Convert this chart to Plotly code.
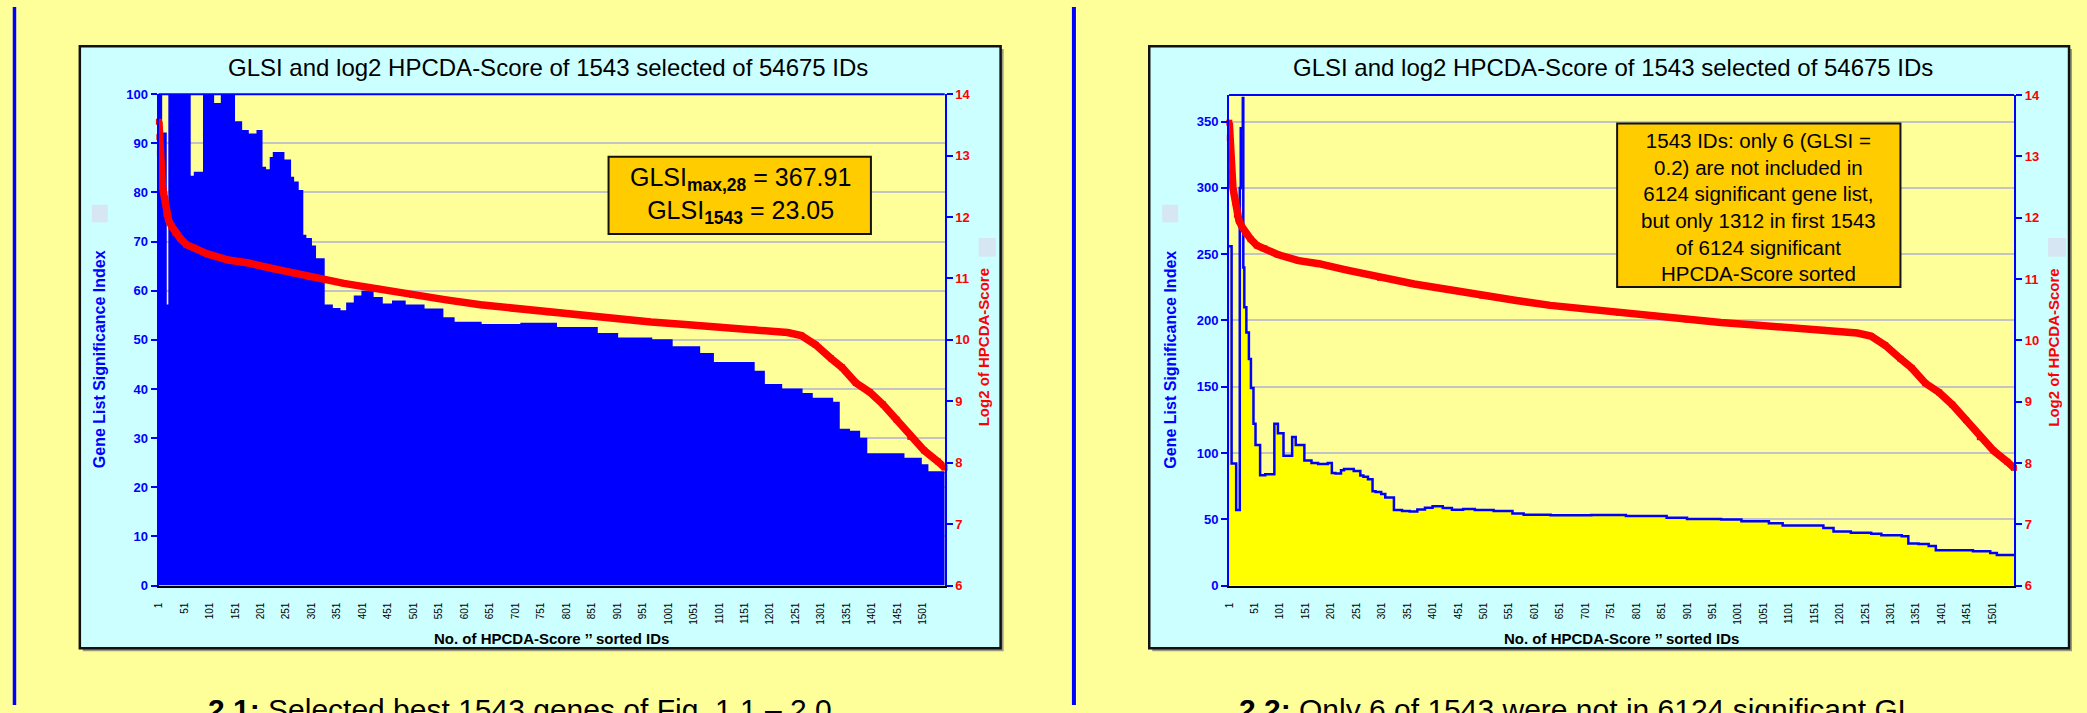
import plotly.graph_objects as go

W, H = 2087, 713
FONT = "Liberation Sans, Arial, sans-serif"

# GLSI per ID, stored as runs: first ID of each plateau and its GLSI value
run_first_id = [1, 6, 15, 22, 24, 28, 29, 31, 35, 40,
                44, 49, 53, 62, 72, 90, 97, 108, 125, 132,
                149, 163, 176, 195, 203, 210, 221, 227, 246, 259,
                265, 274, 283, 289, 300, 308, 325, 341, 356, 371,
                386, 401, 421, 439, 461, 484, 521, 558, 580, 633,
                713, 781, 861, 901, 968, 1008, 1062, 1089, 1169, 1189,
                1223, 1263, 1283, 1323, 1336, 1356, 1376, 1390, 1463, 1497,
                1510]
run_glsi = [256, 92, 57, 300, 345, 367.91, 240, 210, 191, 171,
            149, 122, 106, 83.2, 84, 122, 115, 98, 112, 106,
            94.3, 92.5, 91.8, 92.5, 85, 84.5, 87, 88, 86.5, 83,
            82, 80.3, 71.2, 70.5, 69, 66.4, 57, 56.3, 55.8, 57.4,
            58.8, 59.8, 58.5, 57.2, 57.8, 57, 56.2, 54.4, 53.5, 53,
            53.3, 52.4, 51.2, 50.3, 49.9, 48.5, 47.1, 45.3, 43.5, 40.8,
            39.9, 39, 38, 37.2, 31.7, 31.3, 29.9, 26.7, 25.8, 24.5,
            23.05]

# log2 HPCDA-Score along the sorted IDs
score_id = [1, 2, 3, 4, 5, 6, 8, 10, 13, 16, 20, 26, 33, 43, 55, 70, 96,
            137, 177, 230, 297, 364, 431, 498, 565, 632, 699, 766, 833, 900,
            967, 1034, 1101, 1168, 1235, 1262, 1290, 1320, 1342, 1369, 1396,
            1422, 1449, 1476, 1503, 1530, 1543]
log2_score = [13.55, 13.3, 13.05, 12.95, 12.75, 12.6, 12.5, 12.4, 12.25, 12.05,
              11.95, 11.85, 11.75, 11.65, 11.55, 11.5, 11.4, 11.3, 11.25, 11.15,
              11.02, 10.92, 10.83, 10.73, 10.65, 10.57, 10.51, 10.45, 10.4, 10.34,
              10.29, 10.25, 10.21, 10.17, 10.12, 10.07, 9.92, 9.7, 9.55, 9.3,
              9.15, 8.95, 8.7, 8.42, 8.2, 8.02, 7.92]

n_ids = 1543
tick_ids = list(range(1, n_ids + 1, 50))
tick_text = [str(i) for i in tick_ids]

chart_title = "GLSI and log2 HPCDA-Score of 1543 selected of 54675 IDs"
x_title = "No. of HPCDA-Score \u2019\u2019 sorted IDs"
y_title = "Gene List Significance Index"
y2_title = "Log2 of HPCDA-Score"
box_left = "GLSI<sub><b>max,28</b></sub> = 367.91<br>GLSI<sub><b>1543</b></sub> = 23.05"
box_right = ("1543 IDs: only 6 (GLSI =<br>0.2) are not included in<br>"
             "6124 significant gene list,<br>but only 1312 in first 1543<br>"
             "of 6124 significant<br>HPCDA-Score sorted")
caption_left = "<b>2.1:</b> Selected best 1543 genes of Fig. 1.1 \u2013 2.0"
caption_right = "<b>2.2:</b> Only 6 of 1543 were not in 6124 significant GL"

BLUE = "#0000FF"
RED = "#FF0000"
PAGE = "#FFFF99"
FRAME = "#CCFFFF"


def px(x):
    return x / W


def py(y):
    return 1 - y / H


# step outline of the GLSI runs
step_x = [i - 0.5 for i in run_first_id] + [n_ids + 0.5]
step_y = run_glsi + [run_glsi[-1]]

# pixel geometry of the two panels
panels = [
    dict(frame=(75, 40, 998, 655), plot=(154, 89, 942, 591), ymax=100, dtick=10,
         xa="x", ya="y", ya2="y2", fill=BLUE, title_x=544,
         ytitle_x=95, y2title_x=981, sq1=(87, 202, 103, 220), sq2=(976, 236, 993, 255)),
    dict(frame=(1147, 40, 2069, 655), plot=(1227, 90, 2014, 591), ymax=370, dtick=50,
         xa="x2", ya="y3", ya2="y4", fill="#FFFF00", title_x=1612,
         ytitle_x=1168, y2title_x=2054, sq1=(1160, 202, 1176, 220), sq2=(2048, 236, 2066, 255)),
]

fig = go.Figure()

for p in panels:
    fig.add_trace(go.Scatter(
        x=step_x, y=step_y, mode="lines",
        line=dict(color=BLUE, width=2 if p["fill"] == BLUE else 2.5, shape="hv"),
        fill="tozeroy", fillcolor=p["fill"],
        xaxis=p["xa"], yaxis=p["ya"], showlegend=False, hoverinfo="skip"))
    fig.add_trace(go.Scatter(
        x=score_id, y=log2_score, mode="lines+markers",
        line=dict(color=RED, width=7.5),
        marker=dict(symbol="square", size=6, color=RED),
        cliponaxis=False,
        xaxis=p["xa"], yaxis=p["ya2"], showlegend=False, hoverinfo="skip"))

shapes = []
annotations = []

for p in panels:
    fx0, fy0, fx1, fy1 = p["frame"]
    x0, y0, x1, y1 = p["plot"]
    # chart frame with shadow
    shapes.append(dict(type="rect", xref="paper", yref="paper", layer="below",
                       x0=px(fx0 + 3), x1=px(fx1 + 3), y0=py(fy0 + 3), y1=py(fy1 + 3),
                       fillcolor="#9a9a80", line=dict(width=0)))
    shapes.append(dict(type="rect", xref="paper", yref="paper", layer="below",
                       x0=px(fx0), x1=px(fx1), y0=py(fy0), y1=py(fy1),
                       fillcolor=FRAME, line=dict(color="#111111", width=2.5)))
    # plot area background
    shapes.append(dict(type="rect", xref="paper", yref="paper", layer="below",
                       x0=px(x0), x1=px(x1), y0=py(y0), y1=py(y1),
                       fillcolor=PAGE, line=dict(width=0)))
    for sq in (p["sq1"], p["sq2"]):
        shapes.append(dict(type="rect", xref="paper", yref="paper", layer="below",
                           x0=px(sq[0]), x1=px(sq[2]), y0=py(sq[1]), y1=py(sq[3]),
                           fillcolor="#D6E6F2", line=dict(width=0)))
    # blue top border of the plot area
    shapes.append(dict(type="line", xref="paper", yref="paper", layer="above",
                       x0=px(x0), x1=px(x1), y0=py(y0), y1=py(y0),
                       line=dict(color=BLUE, width=2)))

    annotations.append(dict(text=chart_title, xref="paper", yref="paper",
                            x=px(p["title_x"]), y=py(62), xanchor="center", yanchor="middle",
                            showarrow=False, font=dict(family=FONT, size=24, color="black")))
    annotations.append(dict(text=x_title, xref="paper", yref="paper",
                            x=px((x0 + x1) / 2), y=py(645), xanchor="center", yanchor="middle",
                            showarrow=False,
                            font=dict(family=FONT, size=15, color="black", weight="bold")))
    annotations.append(dict(text=y_title, xref="paper", yref="paper", textangle=-90,
                            x=px(p["ytitle_x"]), y=py(360), xanchor="center", yanchor="middle",
                            showarrow=False,
                            font=dict(family=FONT, size=16, color=BLUE, weight="bold")))
    annotations.append(dict(text=y2_title, xref="paper", yref="paper", textangle=-90,
                            x=px(p["y2title_x"]), y=py(348), xanchor="center", yanchor="middle",
                            showarrow=False,
                            font=dict(family=FONT, size=15, color=RED, weight="bold")))

# text boxes
shapes.append(dict(type="rect", xref="paper", yref="paper", layer="above",
                   x0=px(605), x1=px(868), y0=py(153), y1=py(232),
                   fillcolor="#FFCC00", line=dict(color="#111111", width=2)))
shapes.append(dict(type="rect", xref="paper", yref="paper", layer="above",
                   x0=px(1616), x1=px(1900), y0=py(119), y1=py(286),
                   fillcolor="#FFCC00", line=dict(color="#111111", width=2)))
annotations.append(dict(text=box_left, xref="paper", yref="paper",
                        x=px(737), y=py(193), xanchor="center", yanchor="middle",
                        showarrow=False, align="center",
                        font=dict(family=FONT, size=25, color="black")))
annotations.append(dict(text=box_right, xref="paper", yref="paper",
                        x=px(1758), y=py(204), xanchor="center", yanchor="middle",
                        showarrow=False, align="center",
                        font=dict(family=FONT, size=20.5, color="black")))

# page dividers
for xv, wv in ((9.5, 3.5), (1071.5, 4)):
    shapes.append(dict(type="line", xref="paper", yref="paper", layer="above",
                       x0=px(xv), x1=px(xv), y0=0, y1=1,
                       line=dict(color=BLUE, width=wv)))

# captions (partly below the visible page)
annotations.append(dict(text=caption_left, xref="paper", yref="paper",
                        x=px(201), y=py(699), xanchor="left", yanchor="top",
                        showarrow=False, font=dict(family=FONT, size=30, color="black")))
annotations.append(dict(text=caption_right, xref="paper", yref="paper",
                        x=px(1235), y=py(699), xanchor="left", yanchor="top",
                        showarrow=False, font=dict(family=FONT, size=30, color="black")))


def xaxis_cfg(p):
    x0, _, x1, _ = p["plot"]
    return dict(domain=[px(x0), px(x1)], anchor=p["ya"], range=[0.5, n_ids + 0.5],
                tickmode="array", tickvals=tick_ids, ticktext=tick_text, tickangle=-90,
                tickfont=dict(family=FONT, size=10, color="black"),
                ticks="outside", ticklen=11, tickcolor="rgba(0,0,0,0)",
                showline=True, linecolor="black", linewidth=2,
                showgrid=False, zeroline=False)


def yaxis_cfg(p):
    _, y0, _, y1 = p["plot"]
    return dict(domain=[py(y1), py(y0)], anchor=p["xa"], range=[0, p["ymax"]], dtick=p["dtick"],
                tickfont=dict(family=FONT, size=13, color=BLUE, weight="bold"),
                ticks="outside", ticklen=6, tickwidth=2, tickcolor=BLUE,
                showline=True, linecolor=BLUE, linewidth=2,
                showgrid=True, gridcolor="#C4C4C4", gridwidth=2, zeroline=False)


def yaxis2_cfg(p):
    return dict(overlaying=p["ya"], side="right", anchor=p["xa"], range=[6, 14], dtick=1,
                tickfont=dict(family=FONT, size=13, color=RED, weight="bold"),
                ticks="outside", ticklen=6, tickwidth=2, tickcolor=BLUE,
                showline=True, linecolor=BLUE, linewidth=2,
                showgrid=False, zeroline=False)


fig.update_layout(
    width=W, height=H, autosize=False,
    margin=dict(l=0, r=0, t=0, b=0),
    paper_bgcolor=PAGE, plot_bgcolor=PAGE,
    showlegend=False,
    xaxis=xaxis_cfg(panels[0]), yaxis=yaxis_cfg(panels[0]), yaxis2=yaxis2_cfg(panels[0]),
    xaxis2=xaxis_cfg(panels[1]), yaxis3=yaxis_cfg(panels[1]), yaxis4=yaxis2_cfg(panels[1]),
    shapes=shapes, annotations=annotations,
)

fig.write_html("out.html", config={"displayModeBar": False})
